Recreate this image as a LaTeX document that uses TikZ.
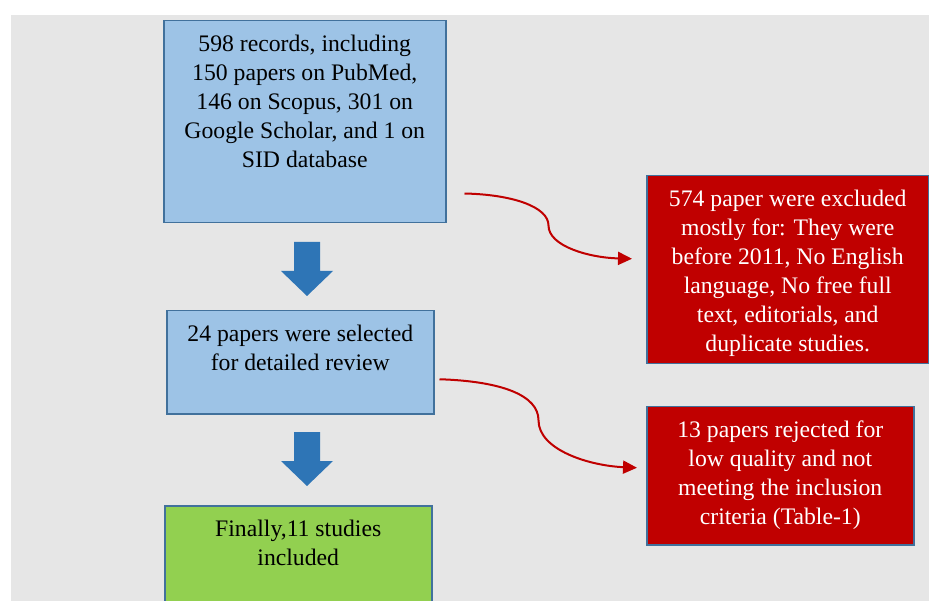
\documentclass[tikz,border=0pt]{standalone}
\usepackage{fontspec}
\setmainfont{Liberation Serif}
\usetikzlibrary{positioning, calc, arrows.meta}
\definecolor{bggray}{HTML}{E6E6E6}
\definecolor{boxfill}{HTML}{9DC3E6}
\definecolor{boxline}{HTML}{41719C}
\definecolor{arrowblue}{HTML}{2E75B6}
\definecolor{okgreen}{HTML}{92D050}
\definecolor{nored}{HTML}{C00000}
% text of a box: width, height, lines (first baseline 31pt below the top)
\newcommand{\boxtext}[3]{\parbox[t][#2][t]{#1}{\centering\rule{0pt}{31pt}#3}}

\begin{document}
\begin{tikzpicture}[x=1pt, y=-1pt]
\tikzset{
flowbox/.style={draw=boxline, line width=1.5pt, anchor=north west, inner sep=0pt,
  align=center, font=\fontsize{23.7}{29}\selectfont}, % common look of all boxes
bluebox/.style={flowbox, fill=boxfill}, % search steps
greenbox/.style={flowbox, fill=okgreen}, % final result
redbox/.style={flowbox, fill=nored, text=white}, % excluded papers
curvearrow/.style={draw=nored, line width=2pt, -{Triangle[length=14pt, width=13pt]}}, % red bent arrows
}
\useasboundingbox (0,0) rectangle (929,601);
\fill[bggray] (11,15) rectangle (929,601);

	\node[bluebox] (rec) at (163,20) {\boxtext{282pt}{202pt}{598 records, including\\150 papers on PubMed,\\146 on Scopus, 301 on\\Google Scholar, and 1 on\\SID database}};
	\node[bluebox, below=86.5pt of rec.south west, anchor=north west, xshift=3pt] (sel) {\boxtext{267pt}{103pt}{24 papers were selected\\for detailed review}};
	\node[greenbox, below=90.5pt of sel.south west, anchor=north west, xshift=-2pt] (fin) {\boxtext{267pt}{112pt}{Finally,11 studies\\included}};
	\node[redbox] (exc) at (646,175) {\boxtext{282pt}{188pt}{574 paper were excluded\\mostly for: They were\\before 2011, No English\\language, No free full\\text, editorials, and\\duplicate studies.}};
	\node[redbox] (rej) at (646,406) {\boxtext{267pt}{138pt}{13 papers rejected for\\low quality and not\\meeting the inclusion\\criteria (Table-1)}};

	% block arrows down the main column
	\foreach \t in {242,432}
		\fill[arrowblue] (294,\t) -- (320,\t) -- (320,\t+29) -- (333,\t+29) -- (307,\t+54)
			-- (281,\t+29) -- (294,\t+29) -- cycle;

	% bent arrows to the excluded boxes
	\coordinate (s1) at ($(rec.south east)+(18,-30)$);
	\coordinate (e1) at ($(exc.west)+(-14,-11)$);
	\coordinate (s2) at ($(sel.east)+(5,17)$);
	\coordinate (e2) at ($(rej.west)+(-9,-8)$);
	\draw[curvearrow] (s1) .. controls ($(s1)+(47,1)$) and ($(s1)+(84,13)$) .. ($(s1)+(84,32)$)
		.. controls ($(s1)+(84,53)$) and ($(e1)+(-42,-1)$) .. (e1);
	\draw[curvearrow] (s2) .. controls ($(s2)+(62,2)$) and ($(s2)+(99,16)$) .. ($(s2)+(99,41)$)
		.. controls ($(s2)+(99,71)$) and ($(e2)+(-47,-2)$) .. (e2);
\end{tikzpicture}
\end{document}
